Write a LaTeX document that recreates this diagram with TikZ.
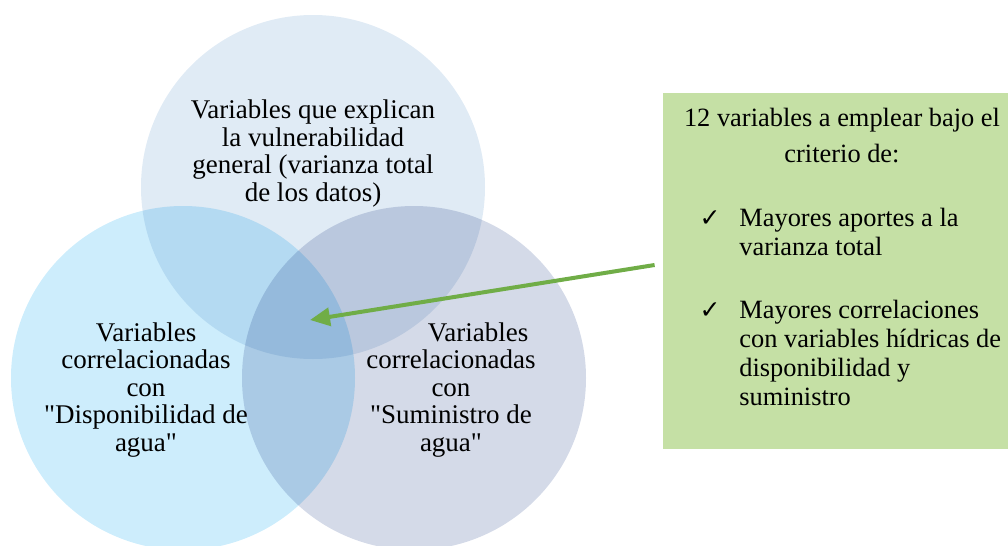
\documentclass[tikz,border=0pt]{standalone}
\usepackage{fontspec}
\setmainfont{Liberation Serif}
\newfontfamily\qfont{Liberation Serif}
\newfontfamily\symfont{DejaVu Sans}
\usetikzlibrary{arrows.meta}
\newcommand{\dq}{{\qfont"}}
\definecolor{topblue}{HTML}{E0EBF5}
\definecolor{leftblue}{HTML}{CDEDFC}
\definecolor{rightblue}{HTML}{D4DAE8}
\definecolor{boxgreen}{HTML}{C5E0A5}
\definecolor{arrowgreen}{HTML}{70AD47}
\begin{document}
\begin{tikzpicture}
	[x=0.5pt,y=-0.5pt,
	venn/.style={circle,minimum size=172pt,inner sep=0pt},
	venntext/.style={align=center,anchor=base,inner sep=0pt,font=\fontsize{13.5}{13.75}\selectfont},
	greenbox/.style={rectangle,fill=boxgreen,minimum width=176pt,minimum height=178pt},
	boxtext/.style={align=left,anchor=base west,inner sep=0pt,font=\fontsize{13.2}{14.5}\selectfont},
	tick/.style={anchor=base,inner sep=0pt,font=\symfont\fontsize{12.5}{13}\selectfont}]
	\useasboundingbox (0,0) rectangle (1008,546);

	\begin{scope}[blend group=multiply]
		\node[venn,fill=topblue] (T) at (313,187) {};
		\node[venn,fill=leftblue] (L) at (183,378) {};
		\node[venn,fill=rightblue] (R) at (414,378) {};
	\end{scope}

	% base = last line
	\node[venntext] (Ttext) at (313,201) {Variables que explican\\la vulnerabilidad\\general (varianza total\\de los datos)};
	\node[venntext] (Ltext) at (146,451) {Variables\\correlacionadas\\con\\\dq Disponibilidad de\\agua\dq};
	\node[venntext] (Rtext) at (451,451) {\hspace*{27pt}Variables\\correlacionadas\\con\\\dq Suministro de\\agua\dq};

	\node[greenbox] (box) at (839,271) {};
	\node[venntext,font=\fontsize{13.2}{17.5}\selectfont] (head) at (842,162) {12 variables a emplear bajo el\\criterio de:};
	\node[tick] (c1) at (710,226) {✓};
	\node[boxtext] (b1) at (739,255) {Mayores aportes a la\\varianza total};
	\node[tick] (c2) at (710,318) {✓};
	\node[boxtext] (b2) at (739,405) {Mayores correlaciones\\con variables hídricas de\\disponibilidad y\\suministro};

	\coordinate (tip) at (310,320);
	\draw[arrowgreen,line width=2pt,-{Triangle[length=10pt,width=9pt]}] ([shift={(-8,-6)}]box.west) -- (tip);
\end{tikzpicture}
\end{document}
